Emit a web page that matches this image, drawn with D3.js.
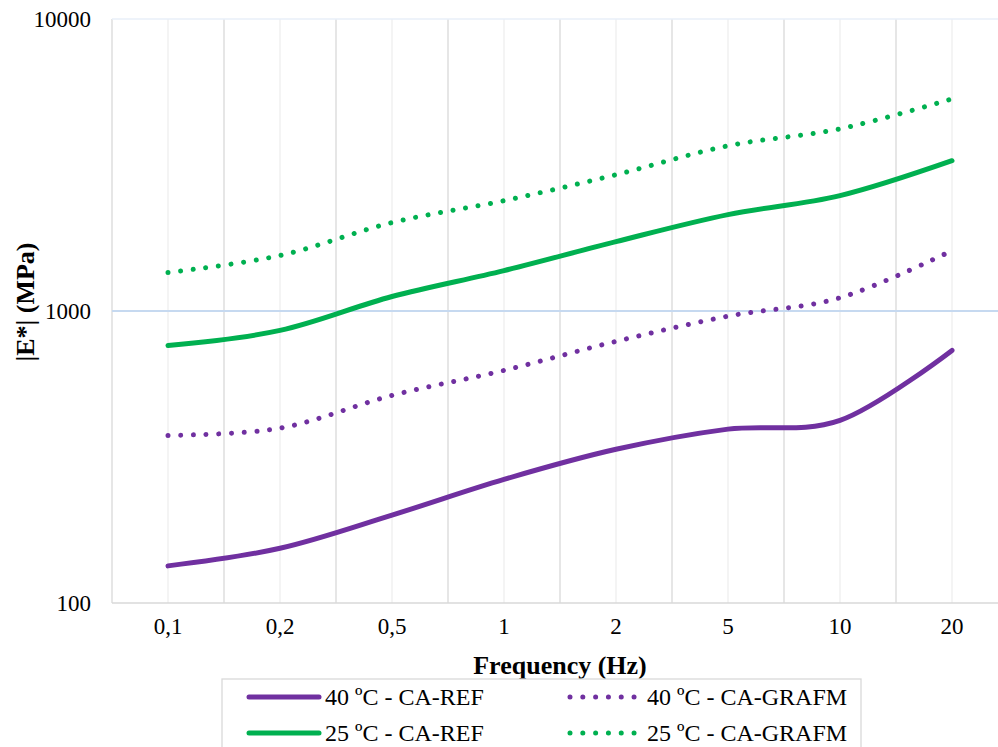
<!DOCTYPE html>
<html>
<head>
<meta charset="utf-8">
<script src="https://cdn.jsdelivr.net/npm/d3@7"></script>
</head>
<body style="margin:0">
<div id="chart"></div>
<script>
// Frequency categories (Hz) and |E*| values (MPa)
const frequencies = ["0,1", "0,2", "0,5", "1", "2", "5", "10", "20"];
const ref40 = [134, 154, 200, 265, 336, 394, 422, 733];
const grafm40 = [375, 397, 514, 626, 787, 960, 1110, 1610];
const ref25 = [762, 858, 1121, 1375, 1728, 2138, 2483, 3271];
const grafm25 = [1355, 1549, 2008, 2387, 2929, 3680, 4206, 5325];
const yTicks = [100, 1000, 10000];

const series = [
  { name: "40 ºC - CA-REF", values: ref40, color: "#7030a0", dotted: false },
  { name: "40 ºC - CA-GRAFM", values: grafm40, color: "#7030a0", dotted: true },
  { name: "25 ºC - CA-REF", values: ref25, color: "#00b050", dotted: false },
  { name: "25 ºC - CA-GRAFM", values: grafm25, color: "#00b050", dotted: true }
];

const W = 998, H = 747;
const plot = { left: 112, right: 1008, top: 19, bottom: 603 };
const FONT = "Liberation Serif";

const svg = d3.select("#chart").append("svg")
  .attr("width", W)
  .attr("height", H);

// Scales
const x = d3.scaleBand()
  .domain(frequencies)
  .range([plot.left, plot.right])
  .padding(0);

const y = d3.scaleLog()
  .domain([100, 10000])
  .range([plot.bottom, plot.top]);

const cx = d => x(d) + x.bandwidth() / 2;

// Vertical gridlines: light at category centres, darker at boundaries
svg.append("g")
  .selectAll("line")
  .data(frequencies)
  .join("line")
  .attr("x1", cx).attr("x2", cx)
  .attr("y1", plot.top).attr("y2", plot.bottom)
  .attr("stroke", "#efefef")
  .attr("stroke-width", 1.3);

svg.append("g")
  .selectAll("line")
  .data(frequencies)
  .join("line")
  .attr("x1", d => x(d)).attr("x2", d => x(d))
  .attr("y1", plot.top).attr("y2", plot.bottom)
  .attr("stroke", "#d9d9d9")
  .attr("stroke-width", 1.3);

// Horizontal gridlines
svg.append("g")
  .selectAll("line")
  .data(yTicks)
  .join("line")
  .attr("x1", plot.left).attr("x2", W)
  .attr("y1", d => y(d)).attr("y2", d => y(d))
  .attr("stroke", d => d === 100 ? "#d9d9d9" : (d === 1000 ? "#c6d9f0" : "#e8eff8"))
  .attr("stroke-width", d => d === 1000 ? 2 : 1.5);

// Y axis labels
const yAxis = d3.axisLeft(y)
  .tickValues(yTicks)
  .tickFormat(d3.format("d"))
  .tickSize(0)
  .tickPadding(21);

svg.append("g")
  .attr("transform", `translate(${plot.left},0)`)
  .call(yAxis)
  .call(g => g.select(".domain").remove())
  .selectAll("text")
  .attr("font-family", FONT)
  .attr("font-size", 23)
  .attr("fill", "#000");

// X axis labels
const xAxis = d3.axisBottom(x).tickSize(0).tickPadding(15);

svg.append("g")
  .attr("transform", `translate(0,${plot.bottom})`)
  .call(xAxis)
  .call(g => g.select(".domain").remove())
  .selectAll("text")
  .attr("font-family", FONT)
  .attr("font-size", 23)
  .attr("fill", "#000");

// Lines
const line = d3.line()
  .x((d, i) => cx(frequencies[i]))
  .y(d => y(d))
  .curve(d3.curveCardinal.tension(0));

svg.append("g")
  .selectAll("path")
  .data(series)
  .join("path")
  .attr("d", d => line(d.values))
  .attr("fill", "none")
  .attr("stroke", d => d.color)
  .attr("stroke-width", 5)
  .attr("stroke-linecap", "round")
  .attr("stroke-dasharray", d => d.dotted ? "0.01 12.7" : null);

// Axis titles
svg.append("text")
  .attr("x", 560)
  .attr("y", 674)
  .attr("text-anchor", "middle")
  .attr("font-family", FONT)
  .attr("font-weight", "bold")
  .attr("font-size", 26)
  .text("Frequency (Hz)");

svg.append("text")
  .attr("transform", "translate(34,302) rotate(-90)")
  .attr("text-anchor", "middle")
  .attr("font-family", FONT)
  .attr("font-weight", "bold")
  .attr("font-size", 26)
  .text("|E*| (MPa)");

// Legend
const legend = svg.append("g");
legend.append("rect")
  .attr("x", 222).attr("y", 679)
  .attr("width", 639).attr("height", 80)
  .attr("fill", "#fff")
  .attr("stroke", "#d9d9d9")
  .attr("stroke-width", 1.3);

const legendPos = [
  { x: 249, y: 697 }, { x: 570, y: 697 },
  { x: 249, y: 733 }, { x: 570, y: 733 }
];

series.forEach((s, i) => {
  const p = legendPos[i];
  const len = s.dotted ? 65 : 70;
  legend.append("line")
    .attr("x1", p.x).attr("x2", p.x + len)
    .attr("y1", p.y).attr("y2", p.y)
    .attr("stroke", s.color)
    .attr("stroke-width", 5)
    .attr("stroke-linecap", "round")
    .attr("stroke-dasharray", s.dotted ? "0.01 12.8" : null);
  legend.append("text")
    .attr("x", p.x + (s.dotted ? 77 : 76))
    .attr("y", p.y + 8)
    .attr("font-family", FONT)
    .attr("font-size", 24)
    .text(s.name);
});
</script>
</body>
</html>
